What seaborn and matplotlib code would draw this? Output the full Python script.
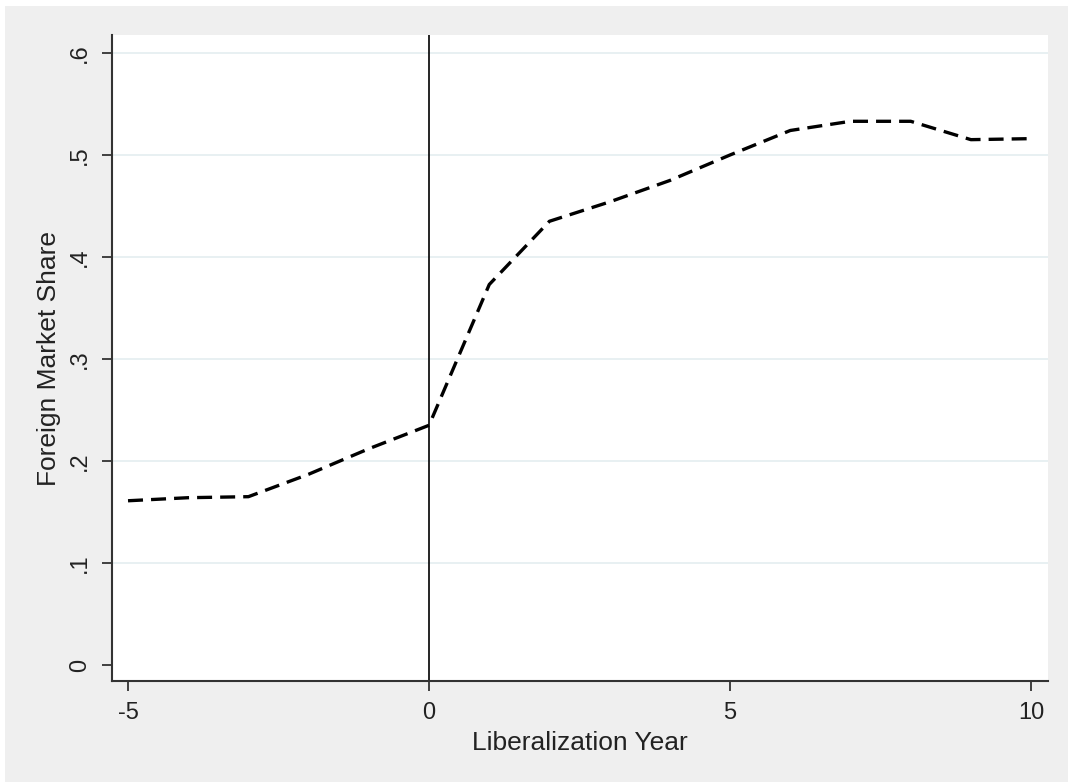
import matplotlib
matplotlib.use("Agg")
import matplotlib.pyplot as plt
from matplotlib.patches import Rectangle
import seaborn as sns
import pandas as pd

years = [-5, -4, -3, -2, -1, 0, 1, 2, 3, 4, 5, 6, 7, 8, 9, 10]
share = [0.161, 0.164, 0.165, 0.187, 0.212, 0.235, 0.373, 0.435, 0.454, 0.475,
         0.500, 0.524, 0.533, 0.533, 0.515, 0.516]
xticks = [-5, 0, 5, 10]
xtick_labels = ["-5", "0", "5", "10"]
yticks = [0, 0.1, 0.2, 0.3, 0.4, 0.5, 0.6]
ytick_labels = ["0", ".1", ".2", ".3", ".4", ".5", ".6"]

sns.set_theme(style="white")
plt.rcParams["font.family"] = ["Liberation Sans", "DejaVu Sans"]
plt.rcParams["lines.scale_dashes"] = False

df = pd.DataFrame({"Liberalization Year": years, "Foreign Market Share": share})

fig = plt.figure(figsize=(10.68, 7.82), dpi=100, facecolor="white")
fig.patches.append(Rectangle((5 / 1068, -0.05), 1.1, 1.05 - 6 / 782, transform=fig.transFigure,
                             facecolor="#EFEFEF", edgecolor="none", zorder=-10))
ax = fig.add_axes([112 / 1068, 1 - 681 / 782, (1048 - 112) / 1068, (681 - 35) / 782])
ax.set_facecolor("white")

for yv in yticks[1:]:
    ax.axhline(yv, color="#E4EEF0", lw=1.2, zorder=0)
ax.axvline(0, color="black", lw=1.2, zorder=1)

sns.lineplot(data=df, x="Liberalization Year", y="Foreign Market Share", ax=ax,
             color="black", lw=2.4, linestyle=(0, (10.8, 5.8)), zorder=3)

ax.set_xlim(-5.266, 10.28)
ax.set_ylim(-0.0157, 0.6176)
ax.set_xticks(xticks)
ax.set_xticklabels(xtick_labels)
ax.set_yticks(yticks)
ax.set_yticklabels(ytick_labels, rotation=90, va="center")

for s in ["top", "right"]:
    ax.spines[s].set_visible(False)
for s in ["left", "bottom"]:
    ax.spines[s].set_color("#333333")
    ax.spines[s].set_linewidth(1.5)

ax.tick_params(axis="both", which="major", direction="out", length=7, width=1.2,
               color="#222222", labelsize=17, labelcolor="#222222", pad=8,
               left=True, bottom=True)
ax.set_xlabel("Liberalization Year", fontsize=19, color="#222222", labelpad=5)
ax.set_ylabel("Foreign Market Share", fontsize=19, color="#222222", labelpad=6)

fig.savefig("out.png", dpi=100, facecolor=fig.get_facecolor())
